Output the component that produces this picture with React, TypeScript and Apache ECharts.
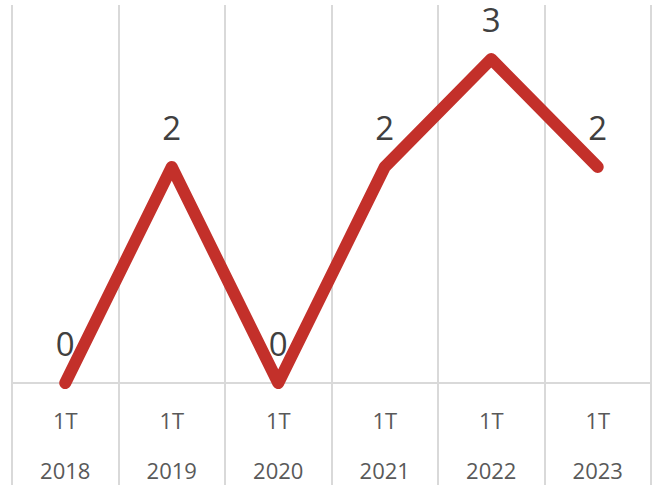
import React, { useEffect, useRef } from "react";
import * as echarts from "echarts";

const quarters = ["1T", "1T", "1T", "1T", "1T", "1T"];
const years = ["2018", "2019", "2020", "2021", "2022", "2023"];
const values = [0, 2, 0, 2, 3, 2];

export default function App() {
  const ref = useRef<HTMLDivElement>(null);
  useEffect(() => {
    if (!ref.current) return;
    const chart = echarts.init(ref.current, null, { renderer: "svg" });
    const font = "'Open Sans', 'Noto Sans', sans-serif";
    chart.setOption({
      animation: false,
      grid: { left: 12, right: 6, top: 5, bottom: 102, outerBoundsMode: "none", containLabel: false },
      xAxis: {
        type: "category",
        data: quarters.map((q, i) => q + "\n" + years[i]),
        boundaryGap: true,
        axisLine: { show: true, lineStyle: { color: "#d9d9d9", width: 2 } },
        axisTick: {
          show: true,
          interval: 0,
          length: 104,
          lineStyle: { color: "#d9d9d9", width: 2 },
        },
        splitLine: { show: true, interval: 0, lineStyle: { color: "#d9d9d9", width: 2 } },
        axisLabel: {
          interval: 0,
          margin: 12,
          color: "#595959",
          fontSize: 22,
          lineHeight: 50,
          fontFamily: font,
        },
      },
      yAxis: {
        type: "value",
        min: 0,
        max: 3.5,
        show: false,
        splitLine: { show: false },
      },
      series: [
        {
          type: "line",
          data: values,
          symbol: "circle",
          symbolSize: 1,
          showSymbol: true,
          itemStyle: { color: "#C3302A" },
          lineStyle: { color: "#C3302A", width: 12, cap: "round", join: "round" },
          label: {
            show: true,
            position: "top",
            distance: 25,
            color: "#404040",
            fontSize: 33,
            lineHeight: 28,
            fontFamily: font,
          },
        },
      ],
    });
    return () => chart.dispose();
  }, []);
  return <div ref={ref} style={{ width: 657, height: 485, position: "absolute", left: 0, top: 0 }} />;
}
